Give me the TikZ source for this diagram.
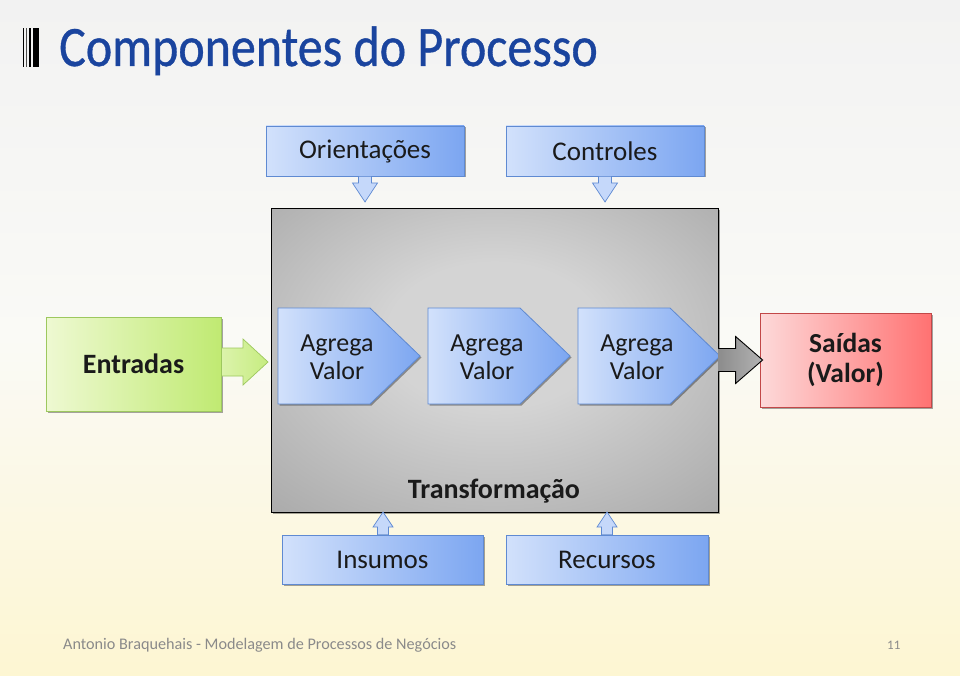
\documentclass[tikz,border=0pt]{standalone}
\usepackage{fontspec}
\setmainfont{Carlito}
\newfontfamily\titlefont[FakeBold=0.7]{Carlito}
\usetikzlibrary{shadows,calc}
\definecolor{bgtop}{HTML}{F2F2F2}
\definecolor{bgmid}{HTML}{FAFAF6}
\definecolor{bgbot}{HTML}{FDF6D2}
\definecolor{titleblue}{HTML}{1A449E}
\definecolor{txt}{HTML}{1A1A1A}
\definecolor{bl}{HTML}{D2E1FB}
\definecolor{br}{HTML}{7CA6F1}
\definecolor{bborder}{HTML}{5F8AD2}
\definecolor{gl}{HTML}{EEF9D2}
\definecolor{gr}{HTML}{C0EA72}
\definecolor{gborder}{HTML}{9DC85E}
\definecolor{rl}{HTML}{FDD9D9}
\definecolor{rr}{HTML}{FF7272}
\definecolor{rborder}{HTML}{C24848}
\definecolor{gin}{HTML}{D4D4D4}
\definecolor{gout}{HTML}{999999}
\definecolor{foot}{HTML}{8A8A8A}
\pgfdeclareradialshading{greyrad}{\pgfpoint{0bp}{5bp}}{color(0bp)=(gin); color(12bp)=(gin); color(48bp)=(gout); color(70bp)=(gout)}
\tikzset{
  shad/.style={drop shadow={shadow xshift=1.5pt,shadow yshift=-1.5pt,opacity=0.35,fill=black}},
  bluebox/.style={draw=bborder, line width=0.8pt, left color=bl, right color=br, shad,
    inner sep=0pt, font=\fontsize{27}{30}\selectfont, text=txt},
  pent/.style={draw=bborder, line width=0.8pt, left color=bl, right color=br, shad},
  ptext/.style={align=center, font=\fontsize{26}{28}\selectfont, text=txt},
  blarrow/.style={draw=bborder, line width=0.7pt, fill=bl!85!br},
  greenbox/.style={draw=gborder, line width=0.8pt, left color=gl, right color=gr, shad,
    minimum width=175pt, minimum height=94pt, inner sep=0pt,
    font=\fontsize{28}{30}\selectfont\bfseries, text=txt},
  redbox/.style={draw=rborder, line width=0.8pt, left color=rl, right color=rr, shad,
    minimum width=171pt, minimum height=94pt, inner sep=0pt, align=center,
    font=\fontsize{27.5}{30}\selectfont\bfseries, text=txt},
  greybox/.style={draw=black, line width=1pt, shading=greyrad, shad,
    minimum width=447pt, minimum height=303pt, inner sep=0pt},
}
\begin{document}
\begin{tikzpicture}[x=1pt,y=-1pt]
% background
\path[use as bounding box, top color=bgtop, bottom color=bgbot, middle color=bgmid] (0,0) rectangle (960,676);
% title glyph
\fill[black] (23,28) rectangle (24.4,67);
\fill[black!70] (26,28) rectangle (27.2,67);
\fill[black] (28.6,28) rectangle (31,67);
\fill[black] (32.6,28) rectangle (38.6,67);
% title
\node[anchor=base west, inner sep=0pt, text=titleblue, yscale=1.12, xscale=0.98,
  font=\titlefont\fontsize{51}{55}\selectfont] (title) at (59,66) {Componentes do Processo};

% grey transformation box
\node[greybox] (grey) at (494.5,360.5) {};
\node[font=\fontsize{28}{30}\selectfont\bfseries, text=txt] (transf) at (494,491) {Transformação};

% top boxes
\node[bluebox, minimum width=198pt, minimum height=50pt] (ori) at (365,151) {Orientações};
\node[bluebox, minimum width=198pt, minimum height=50pt] (ctl) at (605,151) {Controles};
\coordinate (oriTip) at (365,202);
\coordinate (ctlTip) at (605,202);
\foreach \a/\t in {ori/oriTip, ctl/ctlTip}{
  \path[blarrow] let \p1=(\a.south), \p2=(\t) in
    (\x2-6.5pt,\y1) -- (\x2-6.5pt,\y2+19pt) -- (\x2-12.5pt,\y2+19pt) -- (\x2,\y2)
    -- (\x2+12.5pt,\y2+19pt) -- (\x2+6.5pt,\y2+19pt) -- (\x2+6.5pt,\y1) -- cycle;
}

% bottom boxes
\node[bluebox, minimum width=201pt, minimum height=49pt] (ins) at (382.5,559.5) {Insumos};
\node[bluebox, minimum width=202pt, minimum height=49pt] (rec) at (607,559.5) {Recursos};
\coordinate (insTip) at (383,512);
\coordinate (recTip) at (607,512);
\foreach \a/\t in {ins/insTip, rec/recTip}{
  \path[blarrow] let \p1=(\a.north), \p2=(\t) in
    (\x2-5.5pt,\y1) -- (\x2-5.5pt,\y2-15pt) -- (\x2-10pt,\y2-15pt) -- (\x2,\y2)
    -- (\x2+10pt,\y2-15pt) -- (\x2+5.5pt,\y2-15pt) -- (\x2+5.5pt,\y1) -- cycle;
}

% Entradas
\node[greenbox] (ent) at (133.5,364) {Entradas};
\coordinate (entTip) at (268,362);
\path[draw=gborder, line width=0.7pt, left color=gl!60!gr, right color=gr!90!white]
  let \p1=(ent.east), \p2=(entTip) in
  (\x1,\y2+14pt) -- (\x2-25pt,\y2+14pt) -- (\x2-25pt,\y2+23pt) -- (\x2,\y2)
  -- (\x2-25pt,\y2-23pt) -- (\x2-25pt,\y2-14pt) -- (\x1,\y2-14pt) -- cycle;

% Agrega Valor pentagons
\foreach \x/\n in {278/ag1, 428/ag2, 578/ag3}{
  \path[pent] (\x,308) -- ++(92,0) -- ++(50,48) -- ++(-50,48) -- ++(-92,0) -- cycle;
  \node[ptext] (\n) at (\x+59,357) {Agrega\\Valor};
}

% Saidas
\node[redbox] (sai) at (845.5,360) {Saídas\\(Valor)};
\path[draw=black, line width=0.9pt, left color=black!45, right color=black!30]
  let \p1=(grey.east), \p2=(sai.west) in
  (\x1,\y2+11.5pt) -- (\x2-24pt,\y2+11.5pt) -- (\x2-24pt,\y2+23.5pt) -- (\x2+3pt,\y2)
  -- (\x2-24pt,\y2-23.5pt) -- (\x2-24pt,\y2-11.5pt) -- (\x1,\y2-11.5pt);

% footer
\node[anchor=base west, inner sep=0pt, text=foot, font=\fontsize{16.2}{18}\selectfont] (footer) at (63,649)
  {Antonio Braquehais - Modelagem de Processos de Negócios};
\node[anchor=base west, inner sep=0pt, text=foot, font=\fontsize{13}{15}\selectfont] (page) at (887,649) {11};
\end{tikzpicture}
\end{document}
